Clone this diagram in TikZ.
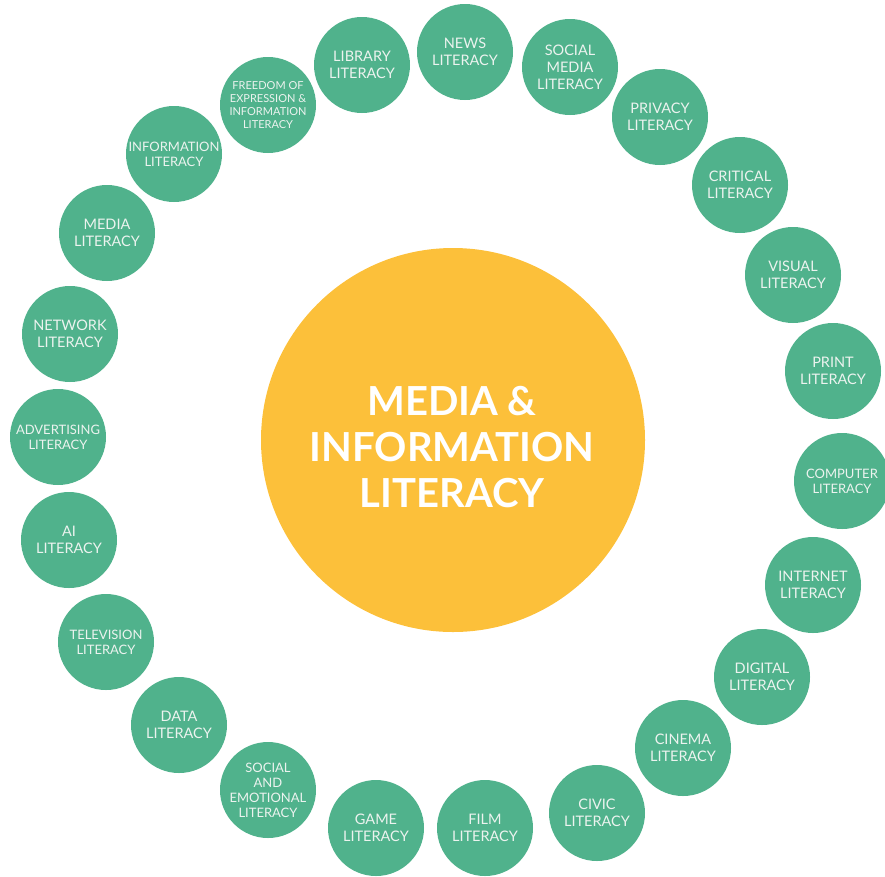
\documentclass[tikz,border=0pt]{standalone}
\usepackage{fontspec}
\setmainfont{Lato}

\definecolor{milgreen}{RGB}{80,178,140}
\definecolor{milyellow}{RGB}{252,192,58}
\definecolor{miltext}{RGB}{236,243,239}

\tikzset{
    bubble/.style={circle, fill=milgreen, minimum size=96pt, inner sep=0pt,
        align=center, text=miltext, font=\fontsize{14.5}{17}\selectfont},
    smalltext/.style={font=\fontsize{13}{15}\selectfont},
    tinytext/.style={font=\fontsize{11}{13}\selectfont},
    hub/.style={circle, fill=milyellow, minimum size=384pt, inner sep=0pt},
    hubtext/.style={align=center, text=white, font=\bfseries\fontsize{40}{46}\selectfont}
}

\begin{document}
\begin{tikzpicture}[x=1pt, y=-1pt]
        \useasboundingbox (0,0) rectangle (885,876);
        % centre
        \node[hub] (mil) at (453,440) {};
        \node[hubtext] (miltitle) at (452,447) {MEDIA \&\\INFORMATION\\LITERACY};
        % ring, clockwise from the top
        \node[bubble] (news) at (465,52) {NEWS\\LITERACY};
        \node[bubble] (socmedia) at (570,67) {SOCIAL\\MEDIA\\LITERACY};
        \node[bubble] (privacy) at (660,117) {PRIVACY\\LITERACY};
        \node[bubble] (critical) at (740,185) {CRITICAL\\LITERACY};
        \node[bubble] (visual) at (793,275) {VISUAL\\LITERACY};
        \node[bubble] (print) at (833,371) {PRINT\\LITERACY};
        \node[bubble, smalltext] (computer) at (842,481) {COMPUTER\\LITERACY};
        \node[bubble] (internet) at (813,585) {INTERNET\\LITERACY};
        \node[bubble] (digital) at (762,677) {DIGITAL\\LITERACY};
        \node[bubble] (cinema) at (683,748) {CINEMA\\LITERACY};
        \node[bubble] (civic) at (597,813) {CIVIC\\LITERACY};
        \node[bubble] (film) at (485,828) {FILM\\LITERACY};
        \node[bubble] (game) at (376,828) {GAME\\LITERACY};
        \node[bubble, smalltext] (socemo) at (268,790) {SOCIAL\\AND\\EMOTIONAL\\LITERACY};
        \node[bubble] (data) at (179,725) {DATA\\LITERACY};
        \node[bubble, smalltext] (television) at (106,642) {TELEVISION\\LITERACY};
        \node[bubble] (ai) at (69,540) {AI\\LITERACY};
        \node[bubble, smalltext] (advertising) at (58,437) {ADVERTISING\\LITERACY};
        \node[bubble] (network) at (70,334) {NETWORK\\LITERACY};
        \node[bubble] (media) at (107,233) {MEDIA\\LITERACY};
        \node[bubble, smalltext] (information) at (174,154) {INFORMATION\\LITERACY};
        \node[bubble, tinytext] (freedom) at (268,105) {FREEDOM OF\\EXPRESSION \&\\INFORMATION\\LITERACY};
        \node[bubble] (library) at (362,65) {LIBRARY\\LITERACY};
    \end{tikzpicture}
\end{document}
